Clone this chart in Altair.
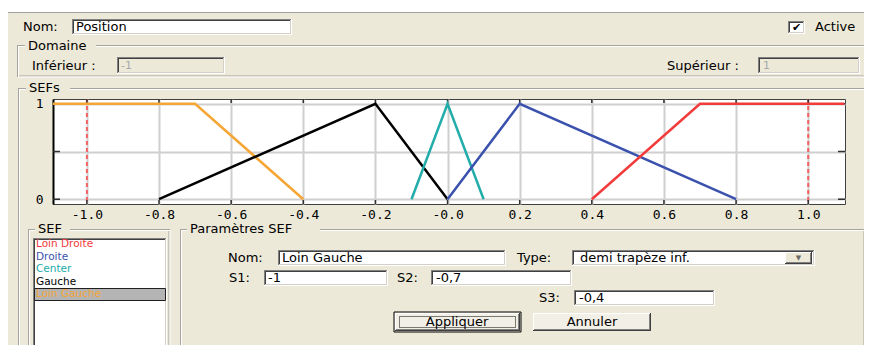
import altair as alt
import pandas as pd

# ------------------------------------------------------------------ data
series = ["Loin Droite", "Droite", "Center", "Gauche", "Loin Gauche"]
series_colors = ["#F23B3B", "#3A52AE", "#22ACAA", "#000000", "#F5A634"]

loin_gauche_x = [-1.1, -0.7, -0.4]
loin_gauche_y = [1, 1, 0]
gauche_x = [-0.8, -0.2, 0.0]
gauche_y = [0, 1, 0]
center_x = [-0.1, 0.0, 0.1]
center_y = [0, 1, 0]
droite_x = [0.0, 0.2, 0.8]
droite_y = [0, 1, 0]
loin_droite_x = [0.4, 0.7, 1.1]
loin_droite_y = [0, 1, 1]

domain_bounds = [-1.0, 1.0]

x_ticks = [-1.0, -0.8, -0.6, -0.4, -0.2, 0.0, 0.2, 0.4, 0.6, 0.8, 1.0]
x_tick_labels = ["-1.0", "-0.8", "-0.6", "-0.4", "-0.2", "-0.0",
                 "0.2", "0.4", "0.6", "0.8", "1.0"]
y_ticks = [0, 0.5, 1]
y_tick_labels = ["0", "", "1"]

# ------------------------------------------------------------------ tables
rows = []
for name, xs, ys in [
    ("Loin Gauche", loin_gauche_x, loin_gauche_y),
    ("Gauche", gauche_x, gauche_y),
    ("Center", center_x, center_y),
    ("Droite", droite_x, droite_y),
    ("Loin Droite", loin_droite_x, loin_droite_y),
]:
    for i, (xv, yv) in enumerate(zip(xs, ys)):
        rows.append({"sef": name, "x": xv, "y": yv, "i": i})
lines_df = pd.DataFrame(rows)
bounds_df = pd.DataFrame({"x": domain_bounds})
xt_df = pd.DataFrame({"x": x_ticks})
yt_df = pd.DataFrame({"y": y_ticks})

# ------------------------------------------------------------------ layout helpers (GUI decoration)
BG = "#ECE9D8"
FONT = "DejaVu Sans"
OX, OY = 53, 99          # page position of the plot area's origin
BASE = pd.DataFrame({"k": [0]})


def rect(X1, Y1, X2, Y2, fill, stroke=None, sw=1, dash=None):
    kw = {"fill": fill}
    if stroke:
        kw["stroke"] = stroke
        kw["strokeWidth"] = sw
    else:
        kw["strokeWidth"] = 0
    if dash:
        kw["strokeDash"] = dash
    return alt.Chart(BASE).mark_rect(**kw).encode(
        x=alt.value(X1 - OX), x2=alt.value(X2 - OX),
        y=alt.value(Y1 - OY), y2=alt.value(Y2 - OY))


def hl(X1, X2, Y, color, sw=1):
    return alt.Chart(BASE).mark_rule(color=color, strokeWidth=sw).encode(
        x=alt.value(X1 - OX), x2=alt.value(X2 - OX), y=alt.value(Y - OY))


def vl(X, Y1, Y2, color, sw=1):
    return alt.Chart(BASE).mark_rule(color=color, strokeWidth=sw).encode(
        x=alt.value(X - OX), y=alt.value(Y1 - OY), y2=alt.value(Y2 - OY))


def txt(X, Y, s, color="#000000", size=13, align="left", font=FONT):
    return alt.Chart(BASE).mark_text(
        text=s, align=align, baseline="middle", font=font,
        fontSize=size, color=color).encode(
        x=alt.value(X - OX), y=alt.value(Y - OY))


def group(X1, Y1, X2, Y2, gap, right=True, bottom=True):
    out = []
    for off, col in ((0.5, "#A5A49C"), (1.5, "#FFFFFF")):
        out.append(hl(X1 + off - 0.5, gap[0], Y1 + off, col))
        out.append(hl(gap[1], X2, Y1 + off, col))
        out.append(vl(X1 + off, Y1 + off, Y2, col))
        if right:
            out.append(vl(X2 - 1.5 + off, Y1 + off, Y2, col))
        if bottom:
            out.append(hl(X1 + off, X2, Y2 - 1.5 + off, col))
    return out


def tbox(X1, Y1, X2, Y2, fill="#FFFFFF"):
    return [
        rect(X1, Y1, X2, Y2, fill),
        hl(X1, X2, Y1 + 0.5, "#808080"),
        vl(X1 + 0.5, Y1, Y2, "#808080"),
        hl(X1 + 1, X2 - 1, Y1 + 1.5, "#404040"),
        vl(X1 + 1.5, Y1 + 1, Y2 - 1, "#404040"),
        hl(X1, X2, Y2 - 0.5, "#FFFFFF"),
        vl(X2 - 0.5, Y1, Y2, "#FFFFFF"),
        hl(X1 + 1, X2 - 1, Y2 - 1.5, "#D4D0C8"),
        vl(X2 - 1.5, Y1 + 1, Y2 - 1, "#D4D0C8"),
    ]


def button(X1, Y1, X2, Y2, fill="#F1EFE6", default=False):
    out = [rect(X1, Y1, X2, Y2, fill),
           hl(X1, X2, Y1 + 0.5, "#FFFFFF"),
           vl(X1 + 0.5, Y1, Y2, "#FFFFFF"),
           hl(X1, X2, Y2 - 0.5, "#404040"),
           vl(X2 - 0.5, Y1, Y2, "#404040"),
           hl(X1 + 1, X2 - 1, Y2 - 1.5, "#808080"),
           vl(X2 - 1.5, Y1 + 1, Y2 - 1, "#808080")]
    if default:
        out.append(rect(X1 - 1, Y1 - 1, X2 + 1, Y2 + 1, "transparent", "#000000", 1))
    return out


gui = []
# top band
gui.append(rect(0, 0, 872, 12, "#FFFFFF"))
gui.append(hl(0, 872, 12.5, "#A0A0A0"))
# Nom / Active row
gui.append(txt(23, 27, "Nom:"))
gui += tbox(72, 19, 292, 35)
gui.append(txt(76, 27, "Position"))
gui += tbox(788, 21, 805, 34)
gui.append(txt(796.5, 27.5, "✔", size=11, align="center"))
gui.append(txt(815, 27, "Active"))
# Domaine
gui += group(17, 45, 880, 77, (25, 96), right=False)
gui.append(txt(28, 46, "Domaine"))
gui.append(txt(32, 66, "Inférieur :"))
gui += tbox(117, 57, 225, 74, BG)
gui.append(txt(121, 66, "-1", color="#A8A8A8", size=11))
gui.append(txt(667, 66, "Supérieur :"))
gui += tbox(758, 57, 860, 74, BG)
gui.append(txt(763, 66, "1", color="#A8A8A8", size=11))
# SEFs
gui += group(18, 88, 880, 360, (26, 70), right=False, bottom=False)
gui.append(txt(29, 88, "SEFs"))
# SEF list (acts as the legend)
gui += group(28, 229, 170, 360, (35, 70), bottom=False)
gui.append(txt(38, 229, "SEF"))
gui += tbox(33, 238, 167, 360)
gui.append(rect(34.5, 288.5, 165.5, 300.5, "#B4B4B4", "#202020", 1))
for k, name in enumerate(series):
    gui.append(txt(36, 244 + 12.5 * k, name,
                   color=series_colors[k], size=10.5))
# Paramètres SEF
gui += group(180, 229, 865, 360, (187, 320), bottom=False)
gui.append(txt(190, 229, "Paramètres SEF"))
gui.append(txt(228, 258, "Nom:"))
gui += tbox(278, 250, 506, 266)
gui.append(txt(282, 258, "Loin Gauche"))
gui.append(txt(517, 258, "Type:"))
gui += tbox(572, 250, 815, 266)
gui.append(txt(580, 258, "demi trapèze inf."))
gui += button(785, 252, 812, 264, fill="#ECE9D8")
gui.append(txt(798.5, 258, "▼", color="#6A6A6A", size=7, align="center"))
gui.append(txt(229, 278, "S1:"))
gui += tbox(264, 270, 388, 286)
gui.append(txt(268, 278, "-1"))
gui.append(txt(397, 278, "S2:"))
gui += tbox(431, 270, 572, 286)
gui.append(txt(436, 278, "-0,7"))
gui.append(txt(539, 298, "S3:"))
gui += tbox(574, 290, 715, 306)
gui.append(txt(579, 298, "-0,4"))
gui += button(395, 313, 520, 331, default=True)
gui.append(rect(399.5, 316.5, 515.5, 327.5, "transparent", "#000000", 1, [1, 1]))
gui.append(txt(457, 322, "Appliquer", align="center"))
gui += button(533, 313, 651, 331)
gui.append(txt(592, 322, "Annuler", align="center"))

# ------------------------------------------------------------------ chart
x_scale = alt.Scale(domain=[-1.094, 1.102], nice=False, zero=False)
y_scale = alt.Scale(domain=[-0.05, 1.05], nice=False, zero=False)

x_label_expr = "[" + ",".join("'%s'" % s for s in x_tick_labels) + "][round((datum.value + 1) * 5)]"
y_label_expr = "[" + ",".join("'%s'" % s for s in y_tick_labels) + "][round(datum.value * 2)]"

x_axis = alt.Axis(values=x_ticks, labelExpr=x_label_expr, title=None,
                  grid=True, gridColor="#CFCFCF", gridWidth=2,
                  domain=False, ticks=False, tickSize=0,
                  labelFont="DejaVu Sans Mono", labelFontSize=13,
                  labelColor="#000000", labelPadding=4,
                  labelFlush=False, labelOverlap=False)
y_axis = alt.Axis(values=y_ticks, labelExpr=y_label_expr, title=None,
                  grid=True, gridColor="#CFCFCF", gridWidth=2,
                  domain=True, domainColor="#000000", domainWidth=2,
                  ticks=False, tickSize=0,
                  labelFont="DejaVu Sans Mono", labelFontSize=13,
                  labelColor="#000000", labelPadding=10)

bounds = alt.Chart(bounds_df).mark_rule(
    color="#F26262", strokeDash=[4, 3], strokeWidth=2).encode(
    x=alt.X("x:Q", scale=x_scale, axis=x_axis))

curves = alt.Chart(lines_df).mark_line(strokeWidth=2.5, clip=True).encode(
    x=alt.X("x:Q", scale=x_scale, axis=x_axis),
    y=alt.Y("y:Q", scale=y_scale, axis=y_axis),
    color=alt.Color("sef:N", scale=alt.Scale(domain=series, range=series_colors),
                    legend=None),
    order="i:Q")

tick_top = alt.Chart(xt_df).mark_rule(color="#303030", strokeWidth=1.5).encode(
    x=alt.X("x:Q", scale=x_scale), y=alt.value(0), y2=alt.value(4))
tick_bot = alt.Chart(xt_df).mark_rule(color="#303030", strokeWidth=1.5).encode(
    x=alt.X("x:Q", scale=x_scale), y=alt.value(101), y2=alt.value(105))
tick_left = alt.Chart(yt_df).mark_rule(color="#303030", strokeWidth=1.5).encode(
    y=alt.Y("y:Q", scale=y_scale), x=alt.value(0), x2=alt.value(7))
tick_right = alt.Chart(yt_df).mark_rule(color="#303030", strokeWidth=1.5).encode(
    y=alt.Y("y:Q", scale=y_scale), x=alt.value(785), x2=alt.value(792))

chart = alt.layer(
    *gui, bounds, tick_top, tick_bot, tick_left, tick_right, curves
).properties(
    width=792, height=105,
    autosize=alt.AutoSizeParams(type="none"),
    padding={"left": 45, "top": 91, "right": 19, "bottom": 141},
).configure(
    background=BG,
).configure_view(
    stroke="#404040", strokeWidth=1, fill="#FFFFFF",
)

chart.save("out.html", embed_options={"renderer": "svg", "actions": False})
